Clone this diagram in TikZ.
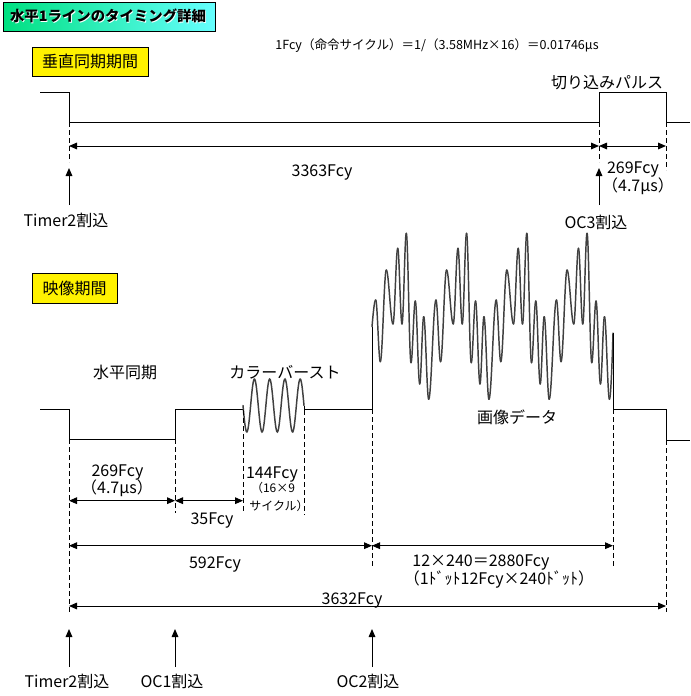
\documentclass[tikz,border=0pt]{standalone}
\usepackage{fontspec}
\setmainfont{Noto Sans CJK JP}
\usetikzlibrary{arrows.meta}
\definecolor{titleL}{RGB}{0,224,128}
\definecolor{titleR}{RGB}{102,255,255}
\begin{document}
\begin{tikzpicture}[x=0.75pt,y=-0.75pt,line width=0.75pt,
  lbl/.style={font=\fontsize{12pt}{14pt}\selectfont, inner sep=0pt, text height=10pt, text depth=1pt},
  sml/.style={font=\fontsize{9pt}{11pt}\selectfont, inner sep=0pt, text height=7.5pt, text depth=0.75pt},
  sig/.style={line width=0.75pt},
  wave/.style={line width=1.1pt, black!75, line cap=round},
  guide/.style={line width=0.75pt, dash pattern=on 3.75pt off 2.25pt},
  dim/.style={{Triangle[length=6pt,width=5pt]}-{Triangle[length=6pt,width=5pt]}},
  uparrow/.style={-{Triangle[length=6pt,width=5pt]}},
  ybox/.style={draw, fill=yellow, line width=0.75pt, font=\fontsize{12pt}{14pt}\selectfont, inner sep=0pt},
  ttl/.style={font=\bfseries\fontsize{10.8pt}{13pt}\selectfont, inner sep=0pt, text height=8.5pt, text depth=1pt},
]
\fill[white] (0,0) rectangle (690,696);
\useasboundingbox (0,0) rectangle (690,696);

% ---- title ----
\node[draw, left color=titleL, right color=titleR, minimum width=159pt, minimum height=21.75pt, inner sep=0pt] (titlebox) at (109,16.5) {};
\node[ttl, white] (titleshadow) at (108.8,17.3) {水平1ラインのタイミング詳細};
\node[ttl] (title) at (108,16.5) {水平1ラインのタイミング詳細};

\node[sml, font=\fontsize{9.4pt}{11pt}\selectfont] (formula) at (437,45) {1Fcy（命令サイクル）＝1/（3.58MHz×16）＝0.01746μs};

\node[ybox, minimum width=87pt, minimum height=21.75pt] (vbox) at (90,61.5) {垂直同期期間};
\node[ybox, minimum width=63.75pt, minimum height=22.5pt] (ibox) at (74.5,288) {映像期間};

% ---- top signal ----
\draw[sig] (40,92) -- (69,92) -- (69,122) -- (599,122) -- (599,92) -- (666,92) -- (666,122) -- (690,122);
\node[lbl] (cutpulse) at (607,82) {切り込みパルス};

\draw[guide] (69,122) -- (69,162);
\draw[guide] (599,122) -- (599,162);
\draw[guide] (666,122) -- (666,170);

\coordinate (ta) at (69,146);
\coordinate (tb) at (599,146);
\coordinate (tc) at (666,146);
\draw[dim] (ta) -- (tb);
\draw[dim] (tb) -- (tc);
\node[lbl] (l3363) at (322,170) {3363Fcy};
\node[lbl] (l269t) at (633,167) {269Fcy};
\node[lbl] (l47t) at (638,185) {（4.7μs）};

\coordinate (tu1s) at (69,205);
\coordinate (tu1e) at (69,168);
\coordinate (tu2s) at (599,205);
\coordinate (tu2e) at (599,168);
\draw[uparrow] (tu1s) -- (tu1e);
\draw[uparrow] (tu2s) -- (tu2e);
\node[lbl] (timer2a) at (66,220) {Timer2割込};
\node[lbl] (oc3) at (596,222) {OC3割込};

% ---- bottom signal ----
\draw[sig] (40,409) -- (69,409) -- (69,439) -- (175,439) -- (175,409) -- (243,409) -- (243,405.5);
\draw[wave] plot[domain=243:304, samples=120, smooth] (\x,{405.5+26.5*sin((\x-243)/15.25*360)});
\draw[sig] (304,405.5) -- (304,409) -- (372,409) -- (372,326.7);
\draw[wave] (372,326.7) .. controls (373.3,312) and (374.4,300) .. (375.7,300);
\foreach \x/\y [remember=\x as \px (initially 375.7), remember=\y as \py (initially 300)] in
 {380.3/361.7, 386.3/270, 393/324, 397.7/248.3, 402/324, 406.3/233.3, 411/362.7, 415.3/301, 419.7/384, 423.7/316.7, 428.7/399.3,
  435.95/300, 440.55/361.7, 446.55/270, 453.25/324, 457.95/248.3, 462.25/324, 466.55/233.3, 471.25/362.7, 475.55/301, 479.95/384, 483.95/316.7, 488.95/399.3,
  496.2/300, 500.8/361.7, 506.8/270, 513.5/324, 518.2/248.3, 522.5/324, 526.8/233.3, 531.5/362.7, 535.8/301, 540.2/384, 544.2/316.7, 549.2/399.3,
  556.45/300, 561.05/361.7, 567.05/270, 573.75/324, 578.45/248.3, 582.75/324, 587.05/233.3, 591.75/362.7, 596.05/301, 600.45/384, 604.45/316.7, 609.45/399.3}
 {\draw[wave] (\px,\py) .. controls ({\px+0.364*(\x-\px)},\py) and ({\x-0.364*(\x-\px)},\y) .. (\x,\y);}
\draw[wave] (609.45,399.3) .. controls (610.8,399.3) and (612.3,358) .. (613,333);
\draw[sig] (613,333) -- (613,409) -- (666,409) -- (666,440) -- (690,440);

\node[lbl] (hsync) at (125,372) {水平同期};
\node[lbl] (burst) at (285,372) {カラーバースト};
\node[lbl] (picdata) at (517,417) {画像データ};

\draw[guide] (69,439) -- (69,612);
\draw[guide] (175,439) -- (175,513);
\draw[guide] (243,410) -- (243,512);
\draw[guide] (304,410) -- (304,515);
\draw[guide] (372,409) -- (372,567);
\draw[guide] (613,409) -- (613,567);
\draw[guide] (666,440) -- (666,612);

\coordinate (b1) at (69,500.7);
\coordinate (b2) at (175,500.7);
\coordinate (b3) at (243,500.7);
\coordinate (c1) at (69,545.7);
\coordinate (c2) at (372,545.7);
\coordinate (c3) at (613,545.7);
\coordinate (d1) at (69,606);
\coordinate (d2) at (666,606);
\draw[dim] (b1) -- (b2);
\draw[dim] (b2) -- (b3);
\draw[dim] (c1) -- (c2);
\draw[dim] (c2) -- (c3);
\draw[dim] (d1) -- (d2);

\node[lbl] (l269b) at (117.5,470) {269Fcy};
\node[lbl] (l47b) at (117,487) {（4.7μs）};
\node[lbl] (l35) at (212,518) {35Fcy};
\node[lbl] (l144) at (272,472) {144Fcy};
\node[sml] (l169) at (273,488) {（16×9};
\node[sml] (lcyc) at (279,506) {サイクル）};
\node[lbl] (l592) at (215,562) {592Fcy};
\node[lbl] (l2880) at (481,560) {12×240＝2880Fcy};
\node[lbl] (ldot) at (499,578) {（1ﾄﾞｯﾄ12Fcy×240ﾄﾞｯﾄ）};
\node[lbl] (l3632) at (352,598) {3632Fcy};

\coordinate (u1s) at (69,667);
\coordinate (u1e) at (69,629);
\coordinate (u2s) at (175,667);
\coordinate (u2e) at (175,629);
\coordinate (u3s) at (372,667);
\coordinate (u3e) at (372,629);
\draw[uparrow] (u1s) -- (u1e);
\draw[uparrow] (u2s) -- (u2e);
\draw[uparrow] (u3s) -- (u3e);
\node[lbl] (timer2b) at (67,681) {Timer2割込};
\node[lbl] (oc1) at (172,681) {OC1割込};
\node[lbl] (oc2) at (368,681) {OC2割込};
\end{tikzpicture}
\end{document}
